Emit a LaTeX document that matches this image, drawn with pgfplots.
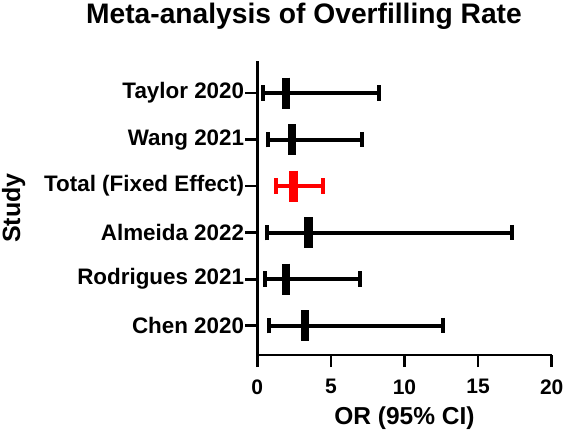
\documentclass[border=0pt]{standalone}
\usepackage{pgfplots}
\pgfplotsset{compat=1.18}
\usepackage{pgfplotstable}
\usepackage{fontspec}
\setmainfont{Liberation Sans}

\pgfplotstableread{
y x lo hi
5 1.95 0.37 8.29
4 2.36 0.75 7.09
2 3.47 0.64 17.28
1 1.95 0.52 6.98
0 3.24 0.80 12.64
}\studies
\pgfplotstableread{
y x lo hi
3 2.45 1.27 4.44
}\totaleffect

\begin{document}
\begin{tikzpicture}
\path[use as bounding box] (0,0) rectangle (567pt,437pt);
\begin{axis}[
  at={(257.3pt,82pt)}, anchor=south west,
  scale only axis, width=294.4pt, height=294pt,
  xmin=0, xmax=20, ymin=-0.63, ymax=5.69,
  axis x line*=bottom, axis y line*=left,
  x axis line style={-, line width=2.7pt, draw=black},
  y axis line style={-, line width=2.7pt, draw=black},
  tick align=outside, major tick length=12pt,
  tick style={line width=2.7pt, draw=black},
  xtick={0,5,10,15,20},
  ytick={0,1,2,3,4,5},
  yticklabels={Chen 2020, Rodrigues 2021, Almeida 2022, Total (Fixed Effect), Wang 2021, Taylor 2020},
  /pgf/number format/assume math mode=true,
  xticklabel style={font=\fontsize{21}{21}\selectfont\bfseries, yshift=-9pt},
  yticklabel style={font=\fontsize{22.4}{22.4}\selectfont\bfseries, inner sep=1pt},
  xlabel={OR (95\% CI)},
  ylabel={Study},
  xlabel style={font=\fontsize{24.5}{24.5}\selectfont\bfseries, at={(axis description cs:0.5,-0.238)}, anchor=base},
  ylabel style={font=\fontsize{25}{25}\selectfont\bfseries, at={(axis description cs:-0.806,0.5)}, anchor=base},
  clip=false,
]
\fill[black] ([xshift=-1.35pt]axis cs:0,-0.63) rectangle ([xshift=1.35pt]axis cs:0,5.69);
\addplot[black, only marks, mark=|, mark size=15.5pt, mark options={line width=8.7pt},
  error bars/.cd, x dir=both, x explicit,
  error bar style={line width=4pt},
  error mark options={rotate=90, line width=4pt, mark size=7.8pt}]
  table[x=x, y=y, x error plus expr=\thisrow{hi}-\thisrow{x}, x error minus expr=\thisrow{x}-\thisrow{lo}] {\studies};
\addplot[red, only marks, mark=|, mark size=15.5pt, mark options={line width=8.7pt},
  error bars/.cd, x dir=both, x explicit,
  error bar style={line width=4pt},
  error mark options={rotate=90, line width=4pt, mark size=7.8pt}]
  table[x=x, y=y, x error plus expr=\thisrow{hi}-\thisrow{x}, x error minus expr=\thisrow{x}-\thisrow{lo}] {\totaleffect};
\end{axis}
\node[anchor=base, font=\fontsize{28.2}{28.2}\selectfont\bfseries] at (304pt,413.5pt) {Meta-analysis of Overfilling Rate};
\end{tikzpicture}
\end{document}
